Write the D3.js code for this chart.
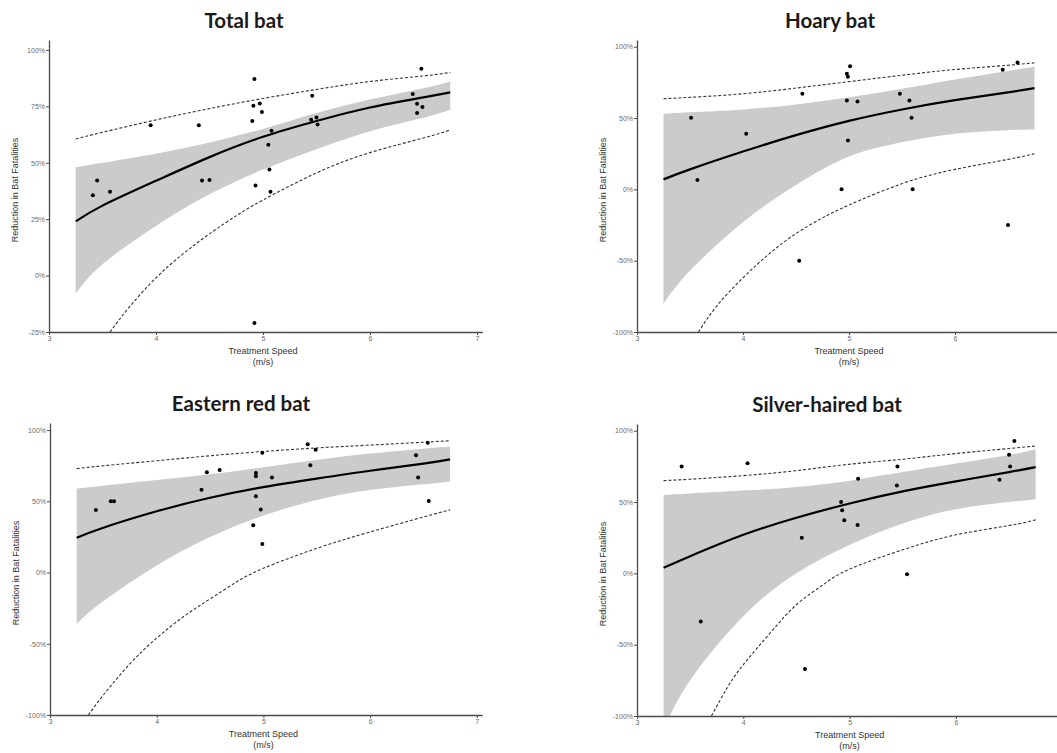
<!DOCTYPE html>
<html>
<head>
<meta charset="utf-8">
<script src="https://cdn.jsdelivr.net/npm/d3@7"></script>
<style>
  body { margin: 0; background: #fff; }
  svg { display: block; }
</style>
</head>
<body>
<svg id="chart" width="1057" height="753"></svg>
<script>
const gridX = [3.25, 3.5, 4, 4.5, 5, 5.5, 6, 6.5, 6.75];
const xTicks = [3, 4, 5, 6, 7];
const yTicksTotal = [-25, 0, 25, 50, 75, 100];
const yTicksSpecies = [-100, -50, 0, 50, 100];

// Total bat
const totalPtsX = [3.41, 3.45, 3.57, 3.95, 4.40, 4.43, 4.50, 4.90, 4.91, 4.92, 4.92, 4.93, 4.97, 4.99, 5.05, 5.06, 5.07, 5.08, 5.45, 5.46, 5.50, 5.51, 6.40, 6.44, 6.44, 6.48, 6.49];
const totalPtsY = [35.6, 42.1, 37.1, 66.6, 66.6, 42.1, 42.4, 68.5, 75.3, 87.1, -21, 39.9, 76.3, 72.5, 58, 47, 37.2, 64.2, 69.1, 79.7, 70.1, 66.9, 80.5, 76.2, 72.1, 91.7, 74.7];
const totalFit = [24, 31, 42, 52.5, 61.5, 68.5, 74.5, 79, 81.2];
const totalBandHi = [48, 50, 54, 59, 65, 72, 78, 83, 86];
const totalBandLo = [-8, 5, 22, 36, 47, 56, 64, 70, 73.5];
const totalPredHi = [60.5, 63.5, 69, 74, 78.5, 82.5, 86, 88.5, 90];
const totalPredLoX = [3.57, 3.75, 4, 4.25, 4.5, 4.75, 5, 5.5, 6, 6.5, 6.75];
const totalPredLo = [-25, -14, -1, 9.5, 18.5, 26.5, 33.5, 45.5, 54.5, 61, 64.5];

// Hoary bat
const hoaryPtsX = [3.51, 3.57, 4.03, 4.53, 4.56, 4.93, 4.98, 4.98, 4.99, 4.99, 5.01, 5.08, 5.48, 5.57, 5.59, 5.60, 6.45, 6.50, 6.59];
const hoaryPtsY = [50.2, 6.5, 39, -50, 67, 0, 81, 62.3, 79, 34.3, 86.3, 61.6, 67, 62.3, 50.2, 0, 83.8, -25, 89];
const hoaryFit = [7, 14, 26.5, 38, 48, 56, 62.5, 68, 71];
const hoaryBandHi = [53, 54, 56, 59.5, 64.5, 70.5, 77, 83, 86];
const hoaryBandLo = [-80, -57, -23, 3, 23, 33, 39, 41.5, 42];
const hoaryPredHi = [63.5, 64.5, 67, 71, 75.5, 80, 84, 87, 88.7];
const hoaryPredLoX = [3.58, 3.75, 4, 4.25, 4.5, 4.75, 5, 5.5, 6, 6.5, 6.75];
const hoaryPredLo = [-100, -82, -62, -45, -31, -20, -11, 4, 14, 21, 25];

// Eastern red bat
const redPtsX = [3.43, 3.57, 3.60, 4.42, 4.47, 4.59, 4.905, 4.93, 4.93, 4.93, 4.975, 4.99, 4.99, 5.08, 5.415, 5.44, 5.49, 6.43, 6.45, 6.54, 6.55];
const redPtsY = [43.9, 50, 50, 58.2, 70.4, 72, 33.2, 69.9, 67.6, 53.5, 44.2, 84.2, 20.1, 66.7, 90, 75.3, 86.3, 82.3, 66.7, 91.2, 50.2];
const redFit = [24.5, 31.5, 43, 52.5, 60, 66, 71.5, 76.5, 79.5];
const redBandHi = [59, 61, 65, 69, 74, 79, 83.5, 87, 88.5];
const redBandLo = [-36, -20, 5, 25, 40, 51, 58, 62, 64];
const redPredHi = [73, 75, 78.5, 82, 85, 87.5, 89.5, 91.5, 92.5];
const redPredLoX = [3.36, 3.5, 3.75, 4, 4.25, 4.5, 4.75, 5, 5.5, 6, 6.5, 6.75];
const redPredLo = [-100, -86, -64, -46, -31, -18.5, -6.5, 3, 17, 28.5, 39, 44];

// Silver-haired bat
const silverPtsX = [3.42, 3.60, 4.04, 4.55, 4.58, 4.92, 4.93, 4.95, 5.075, 5.08, 5.445, 5.45, 5.54, 6.41, 6.50, 6.51, 6.55];
const silverPtsY = [74.9, -33.8, 77.2, 24.9, -67, 50, 44.2, 37.2, 33.9, 66.3, 61.6, 74.9, -0.7, 65.6, 83.1, 74.9, 92.8];
const silverFit = [4, 12, 27, 39, 49, 57.5, 64.5, 71, 74.5];
const silverBandHi = [55, 56, 58, 60.5, 65, 71, 77, 83, 87];
const silverBandLo = [-110, -75, -30, 0, 20, 35, 45, 50, 52];
const silverPredHi = [65, 66, 68.5, 72, 76.5, 80, 84, 87.5, 89.3];
const silverPredLoX = [3.7, 3.85, 4, 4.25, 4.5, 4.75, 5, 5.5, 6, 6.5, 6.75];
const silverPredLo = [-100, -80, -64, -42, -22, -8, 3, 16.5, 27, 33.5, 37.5];

const svg = d3.select("#chart");
svg.append("rect").attr("width", 1057).attr("height", 753).attr("fill", "#fff");

// panel layout (left axis x, px per m/s, bottom/top of y axis, title centre)
const panels = [
  { title: "Total bat", titleX: 244, left: 49, unit: 107, bottom: 332, top: 40, yMin: -25, yMax: 104.4, yTicks: yTicksTotal,
    px: totalPtsX, py: totalPtsY, fit: totalFit, hi: totalBandHi, lo: totalBandLo, predHi: totalPredHi, predLoX: totalPredLoX, predLo: totalPredLo },
  { title: "Hoary bat", titleX: 830, left: 637, unit: 106, bottom: 332, top: 40, yMin: -100, yMax: 104.7, yTicks: yTicksSpecies,
    px: hoaryPtsX, py: hoaryPtsY, fit: hoaryFit, hi: hoaryBandHi, lo: hoaryBandLo, predHi: hoaryPredHi, predLoX: hoaryPredLoX, predLo: hoaryPredLo },
  { title: "Eastern red bat", titleX: 241, left: 50, unit: 106.7, bottom: 715, top: 423, yMin: -100, yMax: 105, yTicks: yTicksSpecies,
    px: redPtsX, py: redPtsY, fit: redFit, hi: redBandHi, lo: redBandLo, predHi: redPredHi, predLoX: redPredLoX, predLo: redPredLo },
  { title: "Silver-haired bat", titleX: 827, left: 637, unit: 106.3, bottom: 716, top: 424, yMin: -100, yMax: 104.7, yTicks: yTicksSpecies,
    px: silverPtsX, py: silverPtsY, fit: silverFit, hi: silverBandHi, lo: silverBandLo, predHi: silverPredHi, predLoX: silverPredLoX, predLo: silverPredLo }
];

panels.forEach(function (p, i) {
  const x = d3.scaleLinear().domain([3, 7.05]).range([p.left, p.left + 4.05 * p.unit]);
  const y = d3.scaleLinear().domain([p.yMin, p.yMax]).range([p.bottom, p.top]);
  const g = svg.append("g");

  //clip everything to the plotting area
  svg.append("clipPath").attr("id", "clip" + i)
    .append("rect")
    .attr("x", p.left).attr("y", p.top)
    .attr("width", 4.05 * p.unit).attr("height", p.bottom - p.top);
  const plot = g.append("g").attr("clip-path", "url(#clip" + i + ")");

  const area = d3.area()
    .x(function (d, k) { return x(gridX[k]); })
    .y0(function (d, k) { return y(p.lo[k]); })
    .y1(function (d, k) { return y(p.hi[k]); })
    .curve(d3.curveNatural);
  plot.append("path").datum(p.fit).attr("d", area).attr("fill", "#cbcbcb");

  const line = d3.line().curve(d3.curveNatural);

  plot.append("path")
    .datum(gridX.map(function (v, k) { return [x(v), y(p.predHi[k])]; }))
    .attr("d", line).attr("fill", "none")
    .attr("stroke", "#333").attr("stroke-width", 1.1).attr("stroke-dasharray", "3,2");

  plot.append("path")
    .datum(p.predLoX.map(function (v, k) { return [x(v), y(p.predLo[k])]; }))
    .attr("d", line).attr("fill", "none")
    .attr("stroke", "#333").attr("stroke-width", 1.1).attr("stroke-dasharray", "3,2");

  plot.append("path")
    .datum(gridX.map(function (v, k) { return [x(v), y(p.fit[k])]; }))
    .attr("d", line).attr("fill", "none")
    .attr("stroke", "#000").attr("stroke-width", 2.2);

  plot.selectAll("circle")
    .data(p.px.map(function (v, k) { return [v, p.py[k]]; }))
    .enter().append("circle")
    .attr("cx", function (d) { return x(d[0]); })
    .attr("cy", function (d) { return y(d[1]); })
    .attr("r", 2)
    .attr("fill", "#000");

  // axes
  const yAxis = d3.axisLeft(y).tickValues(p.yTicks)
    .tickFormat(function (d) { return d + "%"; })
    .tickSize(3).tickSizeOuter(0).tickPadding(1);
  const yg = g.append("g").attr("transform", "translate(" + p.left + ",0)").call(yAxis);

  const xAxis = d3.axisBottom(x).tickValues(xTicks).tickFormat(d3.format("d"))
    .tickSize(3).tickSizeOuter(0).tickPadding(1);
  const xg = g.append("g").attr("transform", "translate(0," + p.bottom + ")").call(xAxis);

  [yg, xg].forEach(function (a) {
    a.select(".domain").attr("stroke", "#4a4a4a").attr("stroke-width", 1.3);
    a.selectAll(".tick line").attr("stroke", "#4a4a4a");
    a.selectAll(".tick text").attr("fill", "#6a6a6a")
      .style("font-family", "'Liberation Sans', Arial, sans-serif").style("font-size", "7px");
  });

  const xMid = x(5);
  g.append("text").attr("x", xMid).attr("y", p.bottom + 22)
    .attr("text-anchor", "middle").attr("fill", "#333")
    .style("font-family", "'Liberation Sans', Arial, sans-serif").style("font-size", "9px")
    .text("Treatment Speed");
  g.append("text").attr("x", xMid).attr("y", p.bottom + 33)
    .attr("text-anchor", "middle").attr("fill", "#333")
    .style("font-family", "'Liberation Sans', Arial, sans-serif").style("font-size", "9px")
    .text("(m/s)");

  const yMid = (p.top + p.bottom) / 2 + 4;
  g.append("text")
    .attr("transform", "translate(" + (p.left - 31) + "," + yMid + ") rotate(-90)")
    .attr("text-anchor", "middle").attr("fill", "#333")
    .style("font-family", "'Liberation Sans', Arial, sans-serif").style("font-size", "9px")
    .text("Reduction in Bat Fatalities");

  g.append("text")
    .attr("x", p.titleX)
    .attr("y", p.top - 12)
    .attr("text-anchor", "middle").attr("fill", "#1a1a1a")
    .style("font-family", "Lato, 'Open Sans', sans-serif").style("font-weight", "bold").style("font-size", "20.5px")
    .text(p.title);
});
</script>
</body>
</html>
